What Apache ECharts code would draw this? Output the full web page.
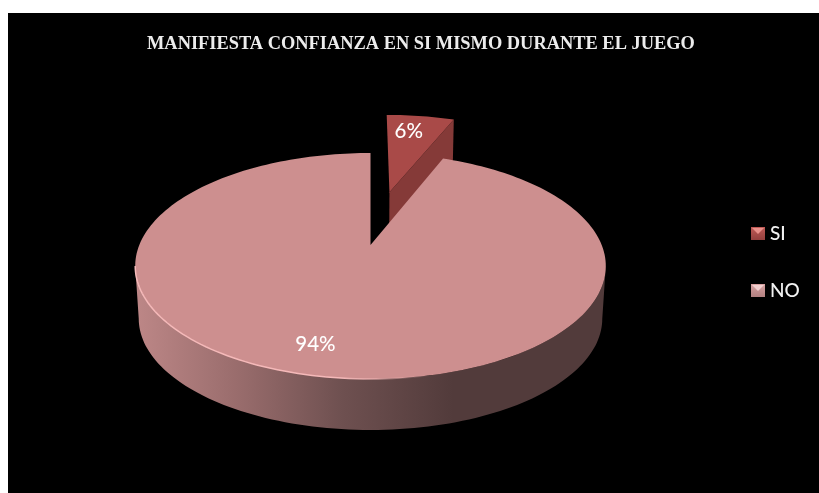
<!DOCTYPE html>
<html>
<head>
<meta charset="utf-8">
<style>html,body{margin:0;padding:0;background:#fff}#chart{width:819px;height:493px}</style>
<script src="https://cdn.jsdelivr.net/npm/echarts@6/dist/echarts.min.js"></script>
</head>
<body>
<div id="chart"></div>
<script>
// Answers to the survey question
const categories = ['SI', 'NO'];
const values = [6, 94];
const chartTitle = 'MANIFIESTA CONFIANZA EN SI MISMO DURANTE EL JUEGO';
const total = values.reduce((a, b) => a + b, 0);

// Perspective view of the disc: unit-circle coordinates (u, v) to pixels
const view = { x: 370.5, y: 245, a: 231.2, b: 109.1, k: -0.1858 };
// Lower rim of the disc relative to the upper one
const rim = { scale: 0.985, drop: 53 };
// Pulled-out slice, offset in disc coordinates
const explode = { u: 0.09, v: -0.532 };
const labelSpot = { SI: [0.115, -0.765], NO: [-0.204, 0.776] };

function project(u, v) {
  const w = 1 + view.k * v;
  return [view.x + view.a * u / w, view.y + view.b * v / w];
}
function lower(p) {
  return [view.x + rim.scale * (p[0] - view.x), view.y + rim.drop + rim.scale * (p[1] - view.y)];
}
// Angles run clockwise from twelve o'clock
function onCircle(deg, du, dv) {
  const t = deg * Math.PI / 180;
  return project(du + Math.sin(t), dv - Math.cos(t));
}
function arc(from, to, du, dv) {
  const pts = [];
  const n = Math.max(2, Math.ceil(Math.abs(to - from) / 1.5));
  for (let i = 0; i <= n; i++) pts.push(onCircle(from + (to - from) * i / n, du, dv));
  return pts;
}
const poly = (points, style) => ({ type: 'polygon', shape: { points }, style, silent: true });
const label = (name, value, du, dv) => {
  const p = project(labelSpot[name][0] + du, labelSpot[name][1] + dv);
  return {
    type: 'text',
    style: {
      text: Math.round(value / total * 100) + '%', x: p[0], y: p[1],
      fill: '#fff', font: '500 20.5px Lato', align: 'center', verticalAlign: 'middle'
    }
  };
};
const swatch = (top, bottom) => new echarts.graphic.LinearGradient(0, 0, 0, 1, [
  { offset: 0, color: top }, { offset: 1, color: bottom }
]);

// SI: exploded wedge starting at twelve o'clock
function renderSi(params, api) {
  const sweep = api.value(0) / total * 360;
  const du = explode.u, dv = explode.v;
  const apex = project(du, dv);
  const edge = onCircle(sweep, du, dv);
  return {
    type: 'group',
    children: [
      poly([apex, edge, lower(edge), lower(apex)], { fill: '#853a38' }),
      poly([apex].concat(arc(0, sweep, du, dv)), { fill: '#a94a48' }),
      label('SI', api.value(0), du, dv)
    ]
  };
}

// NO: the rest of the disc, with its visible front wall
function renderNo(params, api) {
  const start = values[0] / total * 360;
  // Where the silhouette of the projected disc turns from front to back
  const turn = Math.acos(view.k) * 180 / Math.PI;
  const front = arc(turn, 360 - turn, 0, 0);
  const wallFill = new echarts.graphic.LinearGradient(135, 0, 470, 0, [
    { offset: 0, color: '#bd8787' },
    { offset: 0.3, color: '#9a6d6d' },
    { offset: 0.62, color: '#6e5050' },
    { offset: 0.95, color: '#523b3b' },
    { offset: 1, color: '#523b3b' }
  ], true);
  const glow = new echarts.graphic.LinearGradient(135, 0, 430, 0, [
    { offset: 0, color: 'rgba(245,185,185,1)' },
    { offset: 0.7, color: 'rgba(245,185,185,1)' },
    { offset: 1, color: 'rgba(245,185,185,0)' }
  ], true);
  return {
    type: 'group',
    children: [
      poly(front.concat(front.map(lower).reverse()), { fill: wallFill }),
      poly([[view.x, view.y]].concat(arc(start, 360, 0, 0)), { fill: '#cd8f8f' }),
      {
        type: 'polyline',
        shape: { points: arc(150, 360 - turn, 0, 0) },
        style: { stroke: glow, lineWidth: 1.5, fill: null },
        silent: true
      },
      label('NO', api.value(0), 0, 0)
    ]
  };
}

const chart = echarts.init(document.getElementById('chart'), null, { renderer: 'canvas' });
chart.setOption({
  animation: false,
  backgroundColor: '#fff',
  title: {
    text: chartTitle,
    left: 142, top: 30,
    textStyle: { color: '#ececec', fontFamily: 'Liberation Serif', fontWeight: 'bold', fontSize: 18.4 }
  },
  legend: {
    orient: 'vertical', left: 746, top: 219,
    itemWidth: 14, itemHeight: 13, itemGap: 38, icon: 'rect',
    textStyle: { color: '#f2f2f2', fontFamily: 'Lato', fontWeight: 500, fontSize: 19 },
    data: [
      { name: categories[0], itemStyle: { color: swatch('#c05a56', '#94403e') } },
      { name: categories[1], itemStyle: { color: swatch('#d8a2a2', '#b28080') } }
    ]
  },
  graphic: [
    { type: 'rect', z: -10, silent: true, shape: { x: 8, y: 13, width: 811, height: 480 }, style: { fill: '#000' } },
    // Bevel highlight on the legend swatches
    { type: 'polygon', z: 20, silent: true, shape: { points: [[752, 228], [764, 228], [758, 234]] }, style: { fill: '#e8908a' } },
    { type: 'polygon', z: 20, silent: true, shape: { points: [[752, 285], [764, 285], [758, 291]] }, style: { fill: '#f2cfcf' } }
  ],
  series: [
    { type: 'custom', name: categories[0], coordinateSystem: 'none', z: 2, renderItem: renderSi,
      itemStyle: { color: '#b5504e' }, data: [[values[0]]] },
    { type: 'custom', name: categories[1], coordinateSystem: 'none', z: 3, renderItem: renderNo,
      itemStyle: { color: '#c98f8f' }, data: [[values[1]]] }
  ]
});
</script>
</body>
</html>
